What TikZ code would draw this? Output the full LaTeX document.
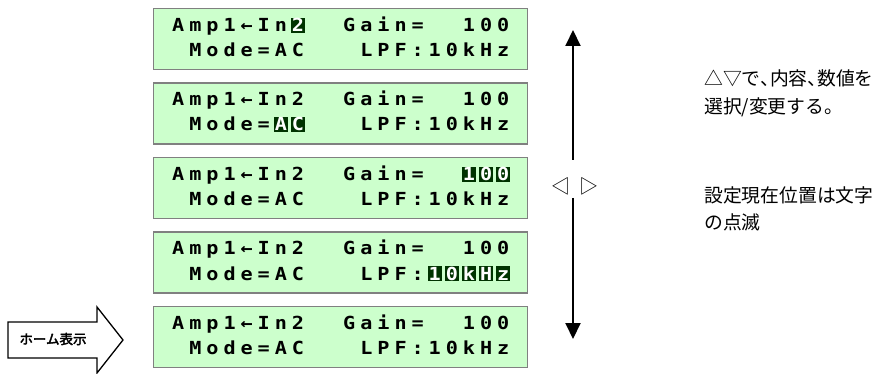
\documentclass[tikz,border=0pt]{standalone}
\usepackage{fontspec}
\usetikzlibrary{arrows.meta}

% fonts
\newfontfamily\lcdfont[FakeStretch=1.12]{DejaVu Sans Mono}
\newfontfamily\jpfont{Noto Sans CJK JP}
\newfontfamily\jpbold[FakeBold=2.8]{Noto Sans CJK JP}

% colours
\definecolor{lcdbg}{HTML}{CCFFCC}
\definecolor{lcdedge}{HTML}{808080}
\definecolor{lcddark}{HTML}{003300}

% one LCD row: every character sits in a fixed 5x8-dot cell,
% a '.' stands for an empty cell
\newlength\lcdpitch \setlength\lcdpitch{17.1pt}
\makeatletter
\def\lcdrow#1{\lcd@loop#1\lcd@stop}
\def\lcd@loop#1{\ifx\lcd@stop#1\else\lcd@cell{#1}\expandafter\lcd@loop\fi}
\def\lcd@cell#1{\makebox[\lcdpitch][l]{\makebox[14.2pt][c]{\ifx.#1\else#1\fi}}}
\makeatother
% narrow ideographic comma
\newcommand\jc{\makebox[9.5pt][l]{、}}

\begin{document}
\begin{tikzpicture}[x=1pt,y=-1pt,
  lcdbox/.style={draw=lcdedge, line width=1.3pt, fill=lcdbg, inner sep=0pt,
    minimum width=374pt, minimum height=61pt, anchor=north west},
  lcdtext/.style={inner sep=0pt, anchor=base west,
    font=\lcdfont\bfseries\fontsize{18}{18}\selectfont},
  lcdinv/.style={lcdtext, text=white},
  cursor/.style={fill=lcddark},
  jptext/.style={inner sep=0pt, anchor=base west, align=left,
    font=\jpfont\fontsize{18.8}{28}\selectfont},
  vline/.style={line width=2pt, -{Triangle[length=16pt,width=15pt]}},
  homearrow/.style={draw=black, line width=1.3pt, fill=white, line join=miter}]

\useasboundingbox (0,0) rectangle (876,374);

% screen 1: cursor on the input number
\node[lcdbox] (s1) at (153,8) {};
\fill[cursor] ({171+17.1*7},18) rectangle ++(14.2,15);
\node[lcdtext] (s1a) at (171,31.5) {\lcdrow{Amp1←In...Gain=..100}};
\node[lcdinv]  (s1b) at (171,31.5) {\lcdrow{.......2}};
\node[lcdtext] (s1c) at (171,56.5) {\lcdrow{.Mode=AC...LPF:10kHz}};

% screen 2: cursor on the coupling mode
\node[lcdbox] (s2) at (153,82.5) {};
\foreach \i in {6,7} \fill[cursor] ({171+17.1*\i},117.5) rectangle ++(14.2,15);
\node[lcdtext] (s2a) at (171,106) {\lcdrow{Amp1←In2..Gain=..100}};
\node[lcdtext] (s2c) at (171,131) {\lcdrow{.Mode=.....LPF:10kHz}};
\node[lcdinv]  (s2d) at (171,131) {\lcdrow{......AC}};

% screen 3: cursor on the gain
\node[lcdbox] (s3) at (153,157) {};
\foreach \i in {17,18,19} \fill[cursor] ({171+17.1*\i},167) rectangle ++(14.2,15);
\node[lcdtext] (s3a) at (171,180.5) {\lcdrow{Amp1←In2..Gain=...}};
\node[lcdinv]  (s3b) at (171,180.5) {\lcdrow{.................100}};
\node[lcdtext] (s3c) at (171,205.5) {\lcdrow{.Mode=AC...LPF:10kHz}};

% screen 4: cursor on the filter frequency
\node[lcdbox] (s4) at (153,231.5) {};
\foreach \i in {15,...,19} \fill[cursor] ({171+17.1*\i},266.5) rectangle ++(14.2,15);
\node[lcdtext] (s4a) at (171,255) {\lcdrow{Amp1←In2..Gain=..100}};
\node[lcdtext] (s4c) at (171,280) {\lcdrow{.Mode=AC...LPF:}};
\node[lcdinv]  (s4d) at (171,280) {\lcdrow{...............10kHz}};

% screen 5: home display
\node[lcdbox] (s5) at (153,306) {};
\node[lcdtext] (s5a) at (171,329.5) {\lcdrow{Amp1←In2..Gain=..100}};
\node[lcdtext] (s5c) at (171,354.5) {\lcdrow{.Mode=AC...LPF:10kHz}};

% home marker arrow
\draw[homearrow] (8,322) -- (97,322) -- (97,307) -- (123,340)
  -- (97,373) -- (97,358) -- (8,358) -- cycle;
\node[inner sep=0pt, font=\jpbold\fontsize{13.5}{13.5}\selectfont] (home) at (53,339) {ホーム表示};

% cursor keys and scroll direction
\node[inner sep=0pt, font=\jpfont\fontsize{19}{19}\selectfont] (lr) at (575,186) {◁\hspace{9pt}▷};
\coordinate (uend) at (573,160);
\coordinate (utip) at (573,30);
\coordinate (dend) at (573,198);
\coordinate (dtip) at (573,339);
\draw[vline] (uend) -- (utip);
\draw[vline] (dend) -- (dtip);

% notes
\node[jptext] (n1) at (704,114) {△▽で\jc 内容\jc 数値を\\選択/変更する。};
\node[jptext] (n2) at (704,230) {設定現在位置は文字\\の点滅};

\end{tikzpicture}
\end{document}
